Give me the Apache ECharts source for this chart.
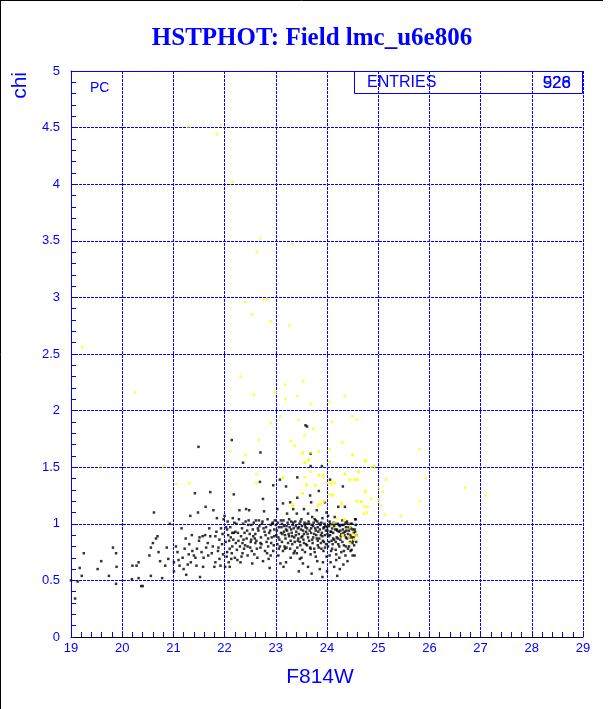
<!DOCTYPE html>
<html>
<head>
<meta charset="utf-8">
<script src="https://cdn.jsdelivr.net/npm/echarts@6/dist/echarts.min.js"></script>
<style>
html,body{margin:0;padding:0;background:#fff;}
#c{width:612px;height:709px;}
</style>
</head>
<body>
<div id="c"></div>
<script>
const titleText = 'HSTPHOT: Field lmc_u6e806';
const xName = 'F814W';
const yName = 'chi';
const xRange = [19, 29];
const yRange = [0, 5];
const statLabel = 'ENTRIES';
const statValues = ['928', '526'];

// black points (F814W, chi)
const blackPoints = [
[19.0,0.50],[19.13,0.49],[19.08,0.34],[19.17,0.61],[19.21,0.54],[19.25,0.74],[19.52,0.60],[19.59,0.67],[19.74,0.54],[19.82,0.79],[19.88,0.74],[19.88,0.47],[19.89,0.62],
[20.19,0.51],[20.20,0.63],[20.28,0.63],[20.32,0.66],[20.32,0.52],[20.37,0.45],[20.40,0.45],[20.53,0.72],[20.56,0.79],[20.56,0.54],[20.60,0.83],[20.66,0.87],[20.69,0.89],[20.62,1.10],[20.71,0.75],[20.74,0.67],[20.78,0.52],[20.84,0.63],[20.87,0.79],[20.90,0.69],[20.93,1.00],
[21.01,0.58],[21.01,0.66],[21.08,0.75],[21.10,0.68],[21.16,0.96],[21.18,0.70],[21.20,0.60],[21.24,0.87],[21.25,0.55],[21.30,0.73],[21.31,0.82],[21.33,1.07],[21.34,0.66],[21.37,0.76],[21.42,1.27],[21.43,0.70],[21.46,0.78],[21.48,1.10],[21.50,0.85],[21.51,0.88],[21.52,0.53],[21.57,0.89],[21.58,0.62],[21.59,0.70],[21.63,1.15],[21.64,0.79],[21.67,0.83],[21.72,1.28],[21.72,0.89],[21.75,0.74],[21.78,1.12],[21.82,0.66],[21.82,0.89],[21.85,1.05],[21.87,0.76],[21.90,0.86],[21.90,0.69],[21.93,0.96],[21.95,0.82],[21.97,0.73],[21.98,1.04],[21.49,1.68],
[21.05,0.80],[21.12,0.63],[21.22,0.78],[21.28,0.64],[21.36,0.90],[21.40,0.72],[21.45,0.63],[21.55,0.75],[21.62,0.90],[21.68,0.72],[21.70,0.96],[21.77,0.80],[21.80,0.62],[21.84,0.93],[21.88,0.79],[21.92,0.63],[21.96,0.91],
[22.0,1.07],[22.01,0.62],[22.03,0.97],[22.05,0.75],[22.07,0.90],[22.09,0.85],[22.10,0.78],[22.13,0.69],[22.15,0.92],[22.18,1.26],[22.19,1.01],[22.22,0.83],[22.24,0.77],[22.26,0.92],[22.29,1.12],[22.31,0.66],[22.33,0.71],[22.36,1.54],[22.36,1.00],[22.37,0.86],[22.40,0.81],[22.42,1.13],[22.44,0.94],[22.47,1.03],[22.48,1.12],[22.50,0.79],[22.52,0.99],[22.54,0.65],[22.56,0.89],[22.58,0.73],[22.61,1.03],[22.62,0.85],[22.65,0.96],[22.67,1.03],[22.69,1.37],[22.70,0.79],[22.73,1.00],[22.75,1.22],[22.77,1.11],[22.80,0.90],[22.82,0.84],[22.83,0.74],[22.86,0.69],[22.88,0.61],[22.90,0.99],[22.92,0.88],[22.94,1.01],[22.95,1.34],[22.96,0.81],[22.97,0.95],[22.14,1.74],[22.70,1.63],
[22.02,0.84],[22.04,0.71],[22.06,1.02],[22.08,0.66],[22.11,0.97],[22.14,0.74],[22.16,1.05],[22.17,0.86],[22.21,0.93],[22.25,0.68],[22.28,1.04],[22.32,0.89],[22.35,0.74],[22.39,0.92],[22.41,1.02],[22.45,0.80],[22.49,0.91],[22.53,0.76],[22.57,1.01],[22.59,0.87],[22.64,0.70],[22.68,0.98],[22.72,0.82],[22.76,0.96],[22.79,0.76],[22.84,1.04],[22.87,0.92],[22.91,0.83],[22.95,0.76],[22.98,1.03],
[23.0,0.99],[23.03,1.13],[23.05,0.88],[23.06,0.78],[23.08,1.39],[23.09,0.65],[23.10,1.03],[23.12,0.84],[23.14,1.18],[23.16,0.93],[23.18,0.78],[23.21,0.98],[23.22,1.09],[23.26,0.89],[23.28,1.19],[23.29,0.70],[23.30,1.02],[23.32,0.82],[23.34,1.13],[23.35,0.96],[23.37,0.76],[23.39,0.90],[23.41,1.09],[23.42,1.23],[23.43,0.85],[23.45,0.97],[23.47,0.69],[23.48,0.81],[23.50,1.04],[23.52,0.89],[23.53,0.65],[23.55,1.13],[23.57,0.75],[23.59,0.93],[23.60,1.00],[23.61,0.81],[23.63,1.09],[23.65,0.85],[23.67,1.25],[23.68,0.73],[23.69,0.96],[23.71,1.06],[23.73,0.88],[23.75,0.78],[23.76,1.04],[23.78,0.94],[23.80,1.12],[23.81,0.67],[23.82,0.85],[23.84,1.29],[23.84,1.00],[23.86,0.60],[23.88,0.90],[23.89,0.78],[23.91,1.05],[23.91,0.53],[23.93,0.96],[23.94,0.84],[23.96,1.19],[23.97,0.98],[23.99,0.71],
[23.01,0.90],[23.06,0.97],[23.08,0.80],[23.10,0.92],[23.12,1.00],[23.14,0.76],[23.16,0.98],[23.18,0.90],[23.21,0.79],[23.22,0.94],[23.25,0.91],[23.26,1.04],[23.28,0.78],[23.30,0.95],[23.32,0.89],[23.34,1.01],[23.37,0.84],[23.39,0.98],[23.41,0.74],[23.43,0.96],[23.45,0.91],[23.47,0.84],[23.48,1.02],[23.50,0.88],[23.52,0.77],[23.53,0.94],[23.55,0.91],[23.57,0.99],[23.59,0.82],[23.61,0.96],[23.63,0.88],[23.65,1.00],[23.67,0.79],[23.69,0.92],[23.71,0.86],[23.73,0.98],[23.75,0.91],[23.76,0.75],[23.78,1.03],[23.80,0.87],[23.82,0.97],[23.84,0.79],[23.86,0.95],[23.88,0.83],[23.89,1.01],[23.91,0.89],[23.93,0.76],[23.94,0.97],[23.96,0.90],[23.98,0.82],
[23.58,1.87],[23.61,1.86],[23.68,1.62],[23.68,1.51],[23.90,1.51],[23.20,1.33],[23.42,1.41],[24.06,1.39],[24.31,1.33],[23.69,1.19],[23.99,1.10],[24.56,1.04],
[24.01,0.91],[24.02,1.07],[24.04,0.84],[24.06,1.00],[24.07,0.66],[24.08,0.93],[24.10,0.78],[24.12,0.87],[24.14,0.98],[24.14,0.62],[24.15,1.06],[24.17,0.84],[24.18,0.73],[24.20,0.94],[24.20,0.54],[24.22,1.15],[24.24,0.80],[24.25,0.98],[24.27,0.89],[24.28,0.75],[24.30,1.03],[24.32,0.92],[24.33,0.81],[24.35,1.15],[24.36,0.72],[24.37,0.97],[24.39,0.87],[24.40,1.00],[24.41,0.78],[24.43,0.94],[24.45,0.84],[24.46,1.00],[24.48,0.88],[24.50,0.72],[24.52,0.92],[24.53,0.81],[24.54,0.72],[24.55,1.04],[24.57,0.90],
[24.01,0.94],[24.02,0.80],[24.04,0.98],[24.06,0.90],[24.08,0.76],[24.10,0.96],[24.12,0.92],[24.14,0.86],[24.16,1.00],[24.17,0.77],[24.19,0.95],[24.21,0.87],[24.23,0.99],[24.24,0.70],[24.26,0.94],[24.28,0.91],[24.30,0.84],[24.32,0.99],[24.33,0.76],[24.35,0.93],[24.37,0.88],[24.39,1.02],[24.41,0.91],[24.43,0.80],[24.45,0.97],[24.46,0.90],[24.48,0.77],[24.50,0.95],[24.52,0.88],[24.55,0.93],[24.57,0.84],
[22.05,0.95],[22.12,0.88],[22.18,0.92],[22.23,1.00],[22.27,0.85],[22.34,0.96],[22.38,0.78],[22.43,0.87],[22.46,0.99],[22.51,0.84],[22.55,0.95],[22.60,0.91],[22.63,0.78],[22.66,0.94],[22.71,0.88],[22.74,1.02],[22.78,0.93],[22.81,0.97],[22.85,0.87],[22.89,0.94],[22.93,1.00],[22.97,0.89],
[23.02,0.94],[23.04,1.01],[23.07,0.86],[23.11,0.97],[23.13,0.91],[23.15,1.03],[23.19,0.87],[23.20,0.95],[23.23,1.01],[23.24,0.83],[23.27,0.97],[23.31,0.92],[23.33,0.99],[23.36,0.88],[23.38,1.02],[23.40,0.93],[23.44,0.87],[23.46,1.00],[23.49,0.95],[23.51,0.98],[23.54,0.86],[23.56,1.01],[23.58,0.97],[23.62,0.91],[23.64,1.02],[23.66,0.94],[23.70,0.99],[23.72,0.83],[23.74,1.01],[23.77,0.96],[23.79,0.90],[23.81,1.02],[23.83,0.93],[23.85,0.87],[23.87,0.99],[23.90,0.92],[23.92,0.85],[23.95,1.00],[23.98,0.94],
[24.00,0.97],[24.03,0.89],[24.05,1.02],[24.07,0.93],[24.09,0.99],[24.11,0.82],[24.13,1.01],[24.16,0.95],[24.19,0.88],[24.21,1.00],[24.23,0.93],[24.26,0.86],[24.29,0.99],[24.31,0.95],[24.34,0.90],[24.36,1.01],[24.38,0.94],[24.42,0.97],[24.44,0.88],[24.47,0.96],[24.49,1.00],[24.51,0.85],[24.54,0.95],[24.56,0.99],
[23.05,0.72],[23.20,0.66],[23.35,0.74],[23.50,0.70],[23.63,0.62],[23.78,0.71],[23.92,0.66],[24.05,0.72],[24.18,0.68],[24.32,0.64],[24.46,0.76],[22.90,0.72],[22.75,0.67],[22.60,0.83],[22.45,0.72],[22.30,0.80],[22.20,0.70],[22.10,0.62],[23.45,0.58],[23.70,0.56],[24.00,0.58],[24.25,0.60],[24.40,0.67],[23.15,0.62],
[23.03,0.82],[23.17,0.80],[23.29,0.85],[23.42,0.79],[23.55,0.83],[23.68,0.78],[23.82,0.81],[23.96,0.79],[24.09,0.85],[24.22,0.82],[24.37,0.80],[24.50,0.83],[22.85,0.80],[22.70,0.83],[22.52,0.86],[22.35,0.83],[22.15,0.80]
];

// yellow points (F814W, chi)
const yellowPoints = [
[19.22,2.56],[19.58,1.51],[20.25,2.16],[20.82,1.51],[21.05,1.35],[21.31,1.36],[21.29,4.51],[21.93,4.52],[21.85,4.44],[22.16,4.02],
[22.70,3.52],[23.33,3.47],[22.63,3.40],[22.40,2.96],[22.76,2.98],[22.83,2.99],[22.54,2.85],[22.90,2.79],[23.26,2.75],
[22.31,2.30],[22.57,2.14],[22.90,1.89],[22.67,1.74],[22.41,1.61],[23.00,2.16],[22.11,1.64],[22.62,1.44],[22.62,1.36],
[23.54,2.26],[23.18,2.23],[23.42,2.13],[23.19,2.10],[23.68,2.06],[24.35,2.13],[24.04,2.08],[23.76,1.99],[23.09,1.95],[23.44,1.92],[24.10,1.90],[24.58,1.92],[24.49,1.95],
[23.73,1.84],[23.29,1.73],[23.56,1.78],[23.37,1.69],[24.30,1.72],[23.52,1.62],[23.56,1.54],[23.64,1.56],[24.05,1.66],[23.84,1.64],[24.50,1.61],[24.75,1.55],[24.05,1.55],[24.87,1.50],[24.93,1.51],
[24.61,1.46],[23.68,1.46],[23.14,1.41],[23.57,1.41],[23.84,1.43],[23.93,1.41],[24.01,1.36],[24.15,1.36],[24.35,1.44],[24.44,1.39],[24.58,1.39],[25.15,1.39],[25.93,1.40],[25.81,1.66],[26.70,1.32],[27.10,1.25],
[23.60,1.34],[23.77,1.34],[24.08,1.35],[25.01,1.32],[25.09,1.28],[24.75,1.28],[23.52,1.27],[24.05,1.26],[24.11,1.25],[24.86,1.22],[25.01,1.21],[24.58,1.20],[24.67,1.19],[25.81,1.20],[24.73,1.15],[25.05,1.16],[24.72,1.09],[25.13,1.08],[25.44,1.07],
[23.94,1.20],[23.88,1.18],[24.28,1.17],[24.33,1.03],[24.30,0.90],[24.43,0.88],[24.57,0.91],[24.14,1.01],[23.33,1.16],[23.82,1.16],
[23.07,1.51],[23.14,1.41],[23.33,1.17],[23.52,1.63],[23.57,1.54],[23.64,1.57],[23.68,1.63],[23.60,1.35],[23.52,1.27],[23.77,1.34],[23.84,1.43],[23.92,1.43],
[24.10,1.37],[24.11,1.26],[23.95,1.20],[23.85,1.17],[24.35,1.44],[24.45,1.39],[24.53,1.39],[24.59,1.39],[24.62,1.46],[24.50,1.61],[24.75,1.56],[24.75,1.29],
[24.58,1.20],[24.67,1.20],[24.79,1.15],[24.78,1.10],[24.28,1.19],[24.20,1.05],[24.35,1.04],[24.09,0.98],[24.45,0.97],[24.50,0.91],[24.31,0.90],[24.44,0.83],[24.53,0.86],[24.57,0.89]
];

const chart = echarts.init(document.getElementById('c'), null, {renderer: 'canvas'});
const BLUE = '#0000ff';
const font = 'Liberation Sans';

const axisCommon = {
  axisLabel: {color: BLUE, fontFamily: font, fontSize: 13},
  axisTick: {show: true, inside: true, length: 4, lineStyle: {color: BLUE}},
  minorTick: {show: true, splitNumber: 5, length: 5, lineStyle: {color: BLUE}},
  splitLine: {show: true, showMinLine: false, lineStyle: {color: BLUE, type: [3, 1], width: 1}}
};

chart.setOption({
  animation: false,
  backgroundColor: '#fff',
  grid: {left: 71, top: 71, right: 29, bottom: 72, containLabel: false},
  xAxis: [{
    type: 'value', min: xRange[0], max: xRange[1], interval: 1,
    axisLine: {show: true, onZero: false, lineStyle: {color: '#000', width: 1}},
    axisTick: axisCommon.axisTick, minorTick: axisCommon.minorTick, splitLine: axisCommon.splitLine,
    axisLabel: Object.assign({}, axisCommon.axisLabel, {margin: 5}),
    name: xName, nameLocation: 'middle', nameGap: 30,
    nameTextStyle: {color: BLUE, fontFamily: font, fontSize: 21, padding: [0, 14, 0, 0]}
  }, {
    type: 'value', min: xRange[0], max: xRange[1], position: 'top',
    axisLine: {show: true, onZero: false, lineStyle: {color: BLUE, width: 1}},
    axisTick: {show: false}, axisLabel: {show: false}, splitLine: {show: false}
  }],
  yAxis: {
    type: 'value', min: yRange[0], max: yRange[1], interval: 0.5,
    axisLine: {show: true, onZero: false, lineStyle: {color: BLUE, width: 1}},
    axisTick: axisCommon.axisTick, minorTick: axisCommon.minorTick, splitLine: axisCommon.splitLine,
    axisLabel: Object.assign({}, axisCommon.axisLabel, {margin: 11})
  },
  series: [{
    type: 'scatter', data: blackPoints, symbol: 'rect', symbolSize: 2.5,
    itemStyle: {color: '#000'}, silent: true, z: 3
  }, {
    type: 'scatter', data: yellowPoints, symbol: 'rect', symbolSize: 2.5,
    itemStyle: {color: '#ffff00'}, silent: true, z: 4
  }],
  graphic: [
    {type: 'line', shape: {x1: 0.5, y1: 0, x2: 0.5, y2: 709}, style: {stroke: '#000', lineWidth: 1}, z: 100},
    {type: 'line', shape: {x1: 0, y1: 0.5, x2: 603, y2: 0.5}, style: {stroke: '#000', lineWidth: 1}, z: 100},
    {type: 'text', x: 312, y: 39, style: {text: titleText, font: 'bold 25px "Liberation Serif"', fill: BLUE, align: 'center', verticalAlign: 'middle'}},
    {type: 'text', x: 20.5, y: 72, rotation: Math.PI / 2, style: {text: yName, font: '21px "Liberation Sans"', fill: BLUE, align: 'right', verticalAlign: 'middle'}},
    {type: 'text', x: 90, y: 88, style: {text: 'PC', font: '14px "Liberation Sans"', fill: BLUE, align: 'left', verticalAlign: 'middle'}},
    {type: 'rect', shape: {x: 354.5, y: 71.5, width: 228, height: 22}, style: {fill: 'none', stroke: BLUE, lineWidth: 1}, z: 100},
    {type: 'text', x: 367, y: 83, style: {text: statLabel, font: '16px "Liberation Sans"', fill: BLUE, align: 'left', verticalAlign: 'middle'}, z: 100},
    {type: 'text', x: 571, y: 83, style: {text: statValues[0], font: '17px "Liberation Sans"', fill: BLUE, align: 'right', verticalAlign: 'middle'}, z: 100},
    {type: 'text', x: 571, y: 83, style: {text: statValues[1], font: '17px "Liberation Sans"', fill: BLUE, align: 'right', verticalAlign: 'middle'}, z: 100}
  ]
});
</script>
</body>
</html>
